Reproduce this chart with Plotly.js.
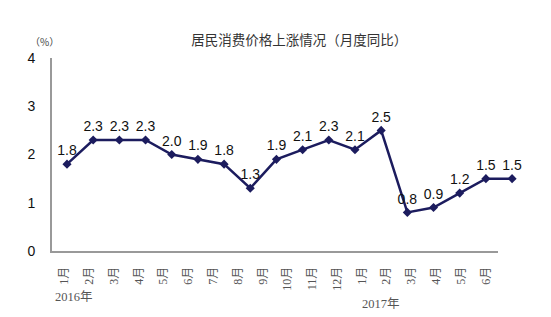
<!DOCTYPE html>
<html>
<head>
<meta charset="utf-8">
<script src="https://cdn.plot.ly/plotly-3.0.1.min.js"></script>
<style>html,body{margin:0;padding:0;background:#fff;}#chart{width:551px;height:317px;}</style>
</head>
<body>
<div id="chart"></div>
<script>
var months = ["1月","2月","3月","4月","5月","6月","7月","8月","9月","10月","11月","12月","1月","2月","3月","4月","5月","6月"];
var cpi = [1.8, 2.3, 2.3, 2.3, 2.0, 1.9, 1.8, 1.3, 1.9, 2.1, 2.3, 2.1, 2.5, 0.8, 0.9, 1.2, 1.5, 1.5];
var yTicks = [0, 1, 2, 3, 4];
var titleText = "居民消费价格上涨情况（月度同比）";

var idx = months.map(function(m, i){ return i; });
var labels = cpi.map(function(v){ return v.toFixed(1); });

var traces = [
  {
    x: idx, y: cpi, xaxis: 'x2', yaxis: 'y',
    mode: 'lines+markers+text', type: 'scatter',
    line: {color: '#1c1c5e', width: 2.5},
    marker: {symbol: 'diamond', size: 7, color: '#1c1c5e'},
    text: labels, textposition: 'top center',
    textfont: {family: 'Liberation Sans, Arial, sans-serif', size: 14, color: '#111'},
    cliponaxis: false, hoverinfo: 'none', showlegend: false
  },
  {
    x: idx, y: cpi.map(function(){ return null; }), xaxis: 'x', yaxis: 'y',
    mode: 'markers', type: 'scatter', showlegend: false, hoverinfo: 'none'
  }
];

var layout = {
  width: 551, height: 317,
  margin: {l: 52, r: 26, t: 58, b: 66},
  paper_bgcolor: '#fff', plot_bgcolor: '#fff',
  title: {
    text: titleText, xref: 'container', yref: 'container',
    x: 0.543, y: 0.874, xanchor: 'center', yanchor: 'middle',
    font: {family: 'Noto Sans CJK SC, sans-serif', size: 13.5, color: '#333'}
  },
  xaxis: {
    domain: [0, 0.943], anchor: 'y',
    type: 'linear', range: [-0.5, 17.5],
    tickmode: 'array', tickvals: idx, ticktext: months,
    tickangle: -90, tickson: 'boundaries',
    ticks: 'inside', ticklen: 5, tickcolor: '#999', tickwidth: 1,
    showline: true, linecolor: '#999', linewidth: 2,
    showgrid: false, zeroline: false,
    ticklabelstandoff: 9,
    tickfont: {family: 'Liberation Serif, Noto Sans CJK SC, serif', size: 12, color: '#555'}
  },
  xaxis2: {
    domain: [0, 1], anchor: 'y',
    range: [-0.573, 17.494], visible: false, showgrid: false, zeroline: false
  },
  yaxis: {
    range: [0, 4], tickmode: 'array', tickvals: yTicks,
    ticks: 'inside', ticklen: 5, tickcolor: '#999', tickwidth: 1,
    showline: true, linecolor: '#999', linewidth: 2,
    showgrid: false, zeroline: false,
    ticklabelstandoff: 12,
    tickfont: {family: 'Liberation Sans, Arial, sans-serif', size: 14, color: '#111'}
  },
  annotations: [
    {text: '（%）', xref: 'paper', yref: 'paper', x: -0.015, y: 1.088,
     xanchor: 'center', yanchor: 'middle', showarrow: false,
     font: {family: 'Noto Sans CJK SC, sans-serif', size: 10, color: '#444'}},
    {text: '2016年', xref: 'paper', yref: 'paper', x: 0.002, y: -0.238,
     xanchor: 'left', yanchor: 'middle', showarrow: false,
     font: {family: 'Liberation Serif, Noto Sans CJK SC, serif', size: 12.5, color: '#555'}},
    {text: '2017年', xref: 'paper', yref: 'paper', x: 0.651, y: -0.275,
     xanchor: 'left', yanchor: 'middle', showarrow: false,
     font: {family: 'Liberation Serif, Noto Sans CJK SC, serif', size: 12.5, color: '#555'}}
  ]
};

Plotly.newPlot('chart', traces, layout, {displayModeBar: false, staticPlot: true});
</script>
</body>
</html>
